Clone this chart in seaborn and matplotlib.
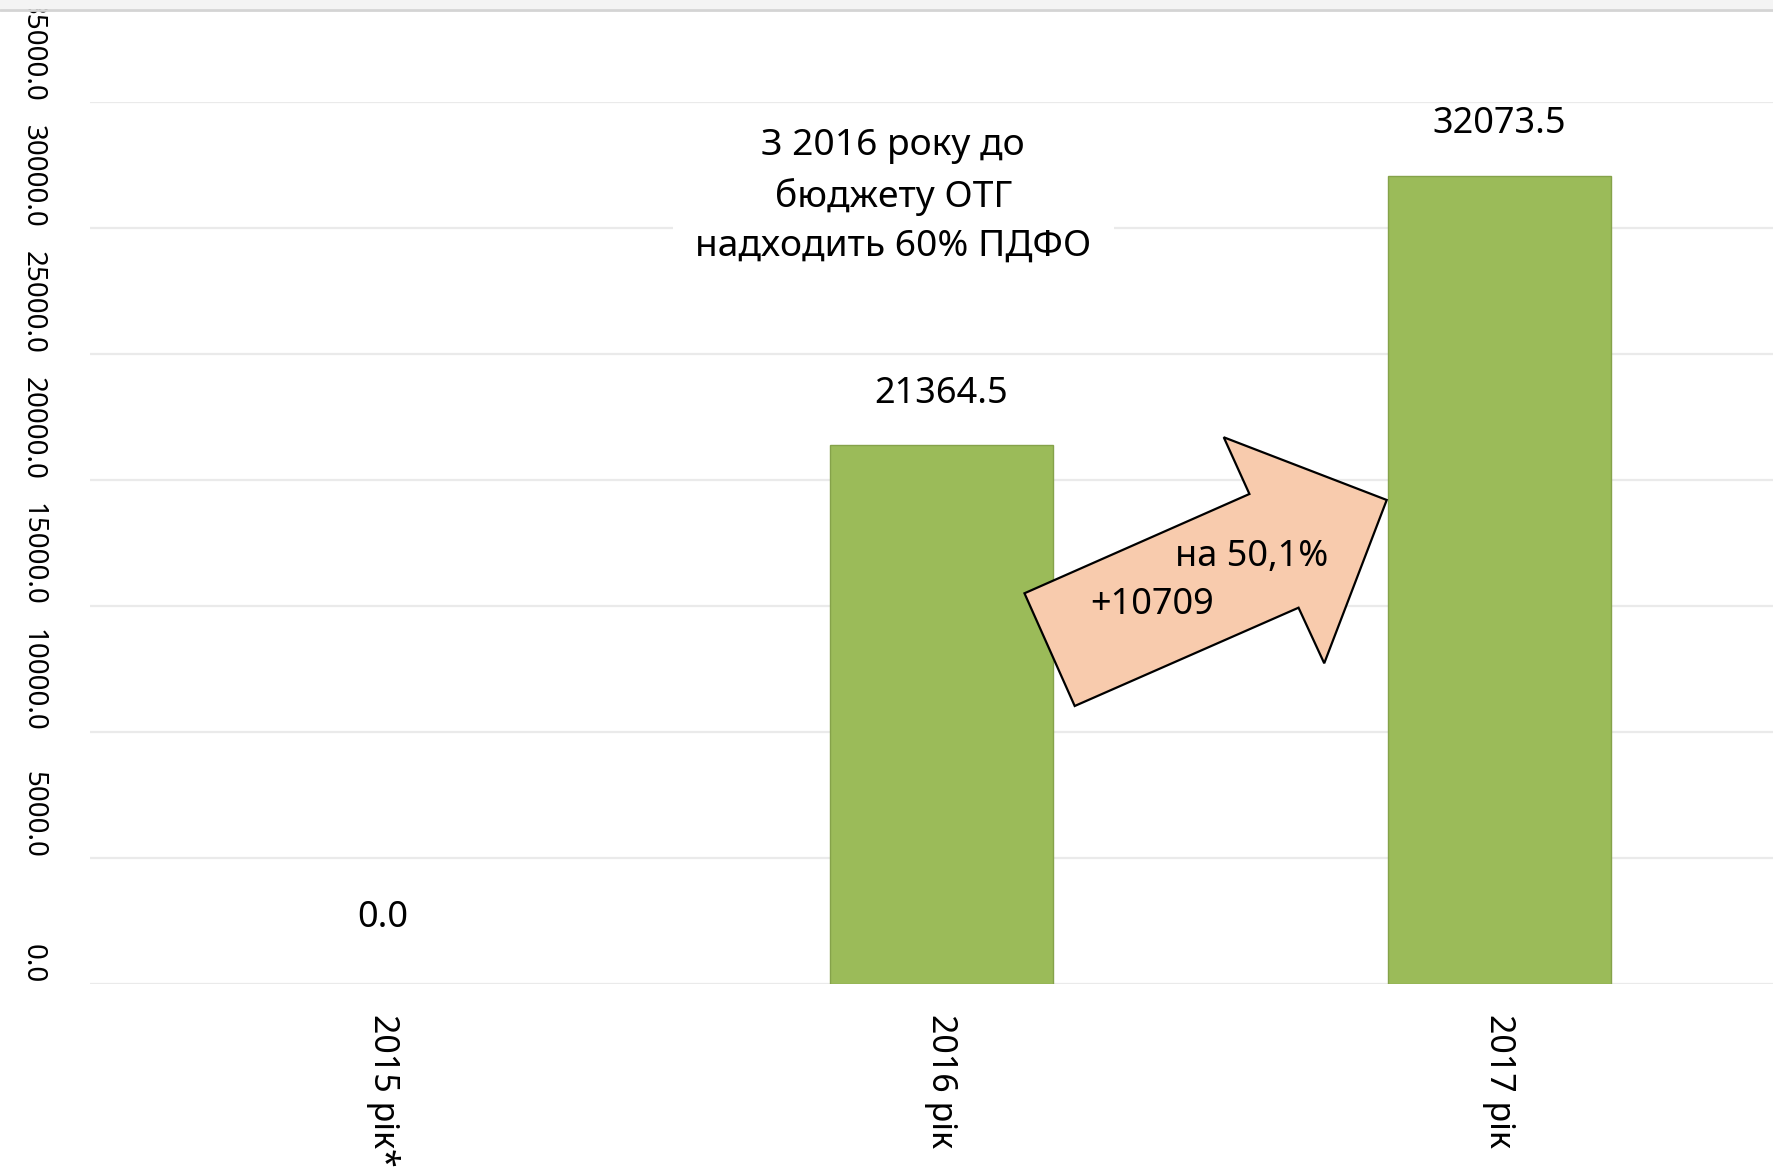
import numpy as np
import pandas as pd
import seaborn as sns
import matplotlib.pyplot as plt
from matplotlib.patches import Polygon, Rectangle
from matplotlib.lines import Line2D

years = ['2015 рік*', '2016 рік', '2017 рік']
pdfo = [0.0, 21364.5, 32073.5]
y_ticks = [0, 5000, 10000, 15000, 20000, 25000, 30000, 35000]
note = 'З 2016 року до\nбюджету ОТГ\nнадходить 60% ПДФО'
growth_pct = 'на 50,1%'
growth_abs = '+10709'

sns.set_style('white')
plt.rcParams['font.family'] = ['Noto Sans', 'DejaVu Sans']
plt.rcParams['text.color'] = 'black'
plt.rcParams['xtick.color'] = 'black'
plt.rcParams['ytick.color'] = 'black'

df = pd.DataFrame({'year': years, 'value': pdfo})

fig = plt.figure(figsize=(17.73, 11.69), dpi=100)
ax = fig.add_axes([0.0508, 0.1585, 0.9492, 0.7544])

sns.barplot(data=df, x='year', y='value', color='#9BBB59', width=0.4,
            edgecolor='#85A24A', linewidth=1, saturation=1, ax=ax, zorder=2)
for p in ax.patches:
    if p.get_height() == 0:
        p.set_linewidth(0)

ax.set_xlim(-0.525, 2.49)
ax.set_ylim(0, 35000)
ax.set_yticks(y_ticks)
ax.set_yticklabels([f'{t:.1f}' for t in y_ticks])
ax.yaxis.grid(True, color='#EAEAEA', lw=1.6, zorder=0)
ax.set_axisbelow(True)
for s in ax.spines.values():
    s.set_visible(False)
ax.set_xlabel('')
ax.set_ylabel('')

ax.tick_params(axis='y', length=0, pad=31)
ax.tick_params(axis='x', length=0, pad=22)
for lbl in ax.get_yticklabels():
    lbl.set_fontsize(20)
    lbl.set_rotation(270)
    lbl.set_rotation_mode('anchor')
    lbl.set_ha('right')
    lbl.set_va('top')
for lbl in ax.get_xticklabels():
    lbl.set_fontsize(24.5)
    lbl.set_rotation(270)
    lbl.set_rotation_mode('anchor')
    lbl.set_ha('left')
    lbl.set_va('center')

# value labels above bars
for i, v in enumerate(pdfo):
    off = 37 if v > 0 else 47
    ax.annotate(f'{v:.1f}', (i, v), xytext=(0, off), textcoords='offset points',
                ha='center', va='center', fontsize=26)

# note text with white box
ax.text(0.914, 31240, note, ha='center', va='center', fontsize=26.8,
        linespacing=1.48, zorder=4,
        bbox=dict(boxstyle='square,pad=0.6', fc='white', ec='none'))

# block arrow between 2016 and 2017
arrow_pts = [(1.149, 15495), (1.552, 19436), (1.506, 21687), (1.798, 19198),
             (1.686, 12717), (1.640, 14923), (1.239, 11022)]
ax.add_patch(Polygon(arrow_pts, closed=True, fc='#F8CBAD', ec='black',
                     lw=1.6, zorder=5))
ax.text(1.556, 16947, growth_pct, ha='center', va='center', fontsize=26, zorder=6)
ax.text(1.378, 15031, growth_abs, ha='center', va='center', fontsize=26, zorder=6)

# cropped header strip at the top
fig.add_artist(Rectangle((0, 1 - 9 / 1169), 1, 9 / 1169, transform=fig.transFigure,
                         fc='#F4F4F4', ec='none', zorder=10))
fig.add_artist(Line2D([0, 1], [1 - 10 / 1169] * 2, transform=fig.transFigure,
                      color='#D4D4D4', lw=2, zorder=11))

fig.savefig('out.png', dpi=100)
